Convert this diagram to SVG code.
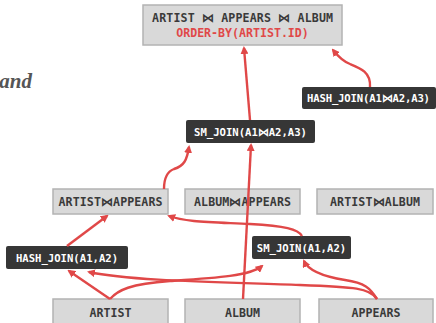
<svg xmlns="http://www.w3.org/2000/svg" width="436" height="323" viewBox="0 0 436 323">
<style>
.g rect{fill:#d9d9d9;stroke:#b3b3b3;stroke-width:1.5}
.d rect{fill:#363636}
.t{font-family:"DejaVu Sans Mono","Liberation Mono",monospace;font-weight:bold;text-anchor:middle}
.g text{fill:#3a3a3a;font-size:11.6px}
.d text{fill:#ffffff;font-size:10.6px}
.r{fill:#e04848 !important}
#edges path{fill:none;stroke:#e04848;stroke-width:2.4;marker-end:url(#ah)}
</style>
<defs>
<marker id="ah" markerWidth="8" markerHeight="8" refX="6" refY="4" orient="auto" markerUnits="userSpaceOnUse">
<path d="M0,0 L8,4 L0,8 Z" fill="#e04848"/>
</marker>
</defs>
<rect width="436" height="323" fill="#ffffff"/>
<text x="32" y="88" text-anchor="end" font-family="Liberation Serif,serif" font-style="italic" font-weight="bold" font-size="21" fill="#555555">and</text>

<g id="root" class="g"><rect x="143" y="5" width="199" height="40"/>
<text class="t" x="242.5" y="22" textLength="181">ARTIST ⋈ APPEARS ⋈ ALBUM</text>
<text class="t r" x="242.5" y="37">ORDER-BY(ARTIST.ID)</text></g>

<g id="hj3" class="d"><rect x="302" y="87" width="134" height="22" rx="2"/>
<text class="t" x="368.5" y="102" textLength="123">HASH_JOIN(A1⋈A2,A3)</text></g>

<g id="sm3" class="d"><rect x="186" y="120" width="129" height="23" rx="2"/>
<text class="t" x="250.5" y="135.5" textLength="113">SM_JOIN(A1⋈A2,A3)</text></g>

<g id="aap" class="g"><rect x="53" y="189" width="115" height="25"/>
<text class="t" x="110.5" y="205.5" textLength="104">ARTIST⋈APPEARS</text></g>
<g id="alap" class="g"><rect x="185" y="189" width="115" height="25"/>
<text class="t" x="242.5" y="205.5" textLength="97">ALBUM⋈APPEARS</text></g>
<g id="aal" class="g"><rect x="317" y="189" width="116" height="25"/>
<text class="t" x="375" y="205.5" textLength="90">ARTIST⋈ALBUM</text></g>

<g id="hj2" class="d"><rect x="6" y="246" width="122" height="23" rx="2"/>
<text class="t" x="67" y="261.5">HASH_JOIN(A1,A2)</text></g>
<g id="sm2" class="d"><rect x="252" y="236" width="99" height="23" rx="2"/>
<text class="t" x="301.5" y="251.5">SM_JOIN(A1,A2)</text></g>

<g id="artist" class="g"><rect x="53" y="299" width="115" height="28"/>
<text class="t" x="110.5" y="317">ARTIST</text></g>
<g id="album" class="g"><rect x="185" y="299" width="115" height="28"/>
<text class="t" x="242.5" y="317">ALBUM</text></g>
<g id="appears" class="g"><rect x="319" y="299" width="114" height="28"/>
<text class="t" x="376" y="317">APPEARS</text></g>

<g id="edges">
<path d="M243,299 L251,145"/>
<path d="M250,120 L244,48"/>
<path d="M370,87 C371,72 360,68 350,64 C342,61 337,55 333,50"/>
<path d="M164,189 C164,180 166,172 174,169 C184,166 187,160 189,147"/>
<path d="M67,246 L107,216"/>
<path d="M302,236 C298,229 285,226 250,224 C210,222 185,222 169,216"/>
<path d="M110,299 L69,271"/>
<path d="M110,299 C118,290 130,284 170,281 C215,278 250,276 262,266"/>
<path d="M377,299 C370,288 355,287 300,285 C220,282 130,281 89,272"/>
<path d="M377,299 C370,288 365,283 345,280 C320,276 308,270 304,261"/>
</g>
</svg>
